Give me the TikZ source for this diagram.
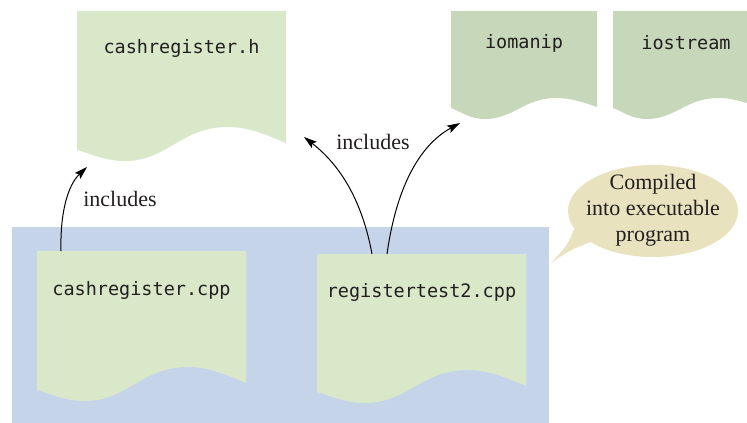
\documentclass[tikz,border=0pt]{standalone}
\usepackage{fontspec}
\setmonofont{DejaVu Sans Mono}
\newfontfamily\labelserif{Liberation Serif}
\usetikzlibrary{arrows.meta}
\definecolor{docgreen}{HTML}{D9E8C9}
\definecolor{libgreen}{HTML}{C6D7BA}
\definecolor{bluebg}{HTML}{C6D4EA}
\definecolor{calloutcol}{HTML}{E8E2BF}
\definecolor{inkcol}{HTML}{231F20}
\newcommand{\docshape}[8]{%
  \pgfmathsetmacro\dcw{#3-#2}%
  \pgfmathsetmacro\dcxp{#2+0.72*\dcw}%
  \pgfmathsetmacro\dcxt{#2+0.23*\dcw}%
  \fill[#1] (#2,#4) -- (#3,#4) -- (#3,#5)
    .. controls ({#3-0.1*\dcw},{#5-0.55*(#5-#7)}) and ({\dcxp+0.1*\dcw},#7) .. (\dcxp,#7)
    .. controls ({\dcxp-0.22*\dcw},#7) and ({\dcxt+0.2*\dcw},#8) .. (\dcxt,#8)
    .. controls ({\dcxt-0.1*\dcw},#8) and ({#2+0.07*\dcw},{#6+0.35*(#8-#6)}) .. (#2,#6)
    -- cycle;}
\tikzset{
  mono/.style={font=\ttfamily\fontsize{18.5}{22}\selectfont, text=inkcol, inner sep=0pt},
  serifl/.style={font=\labelserif\fontsize{22}{26}\selectfont, text=inkcol, inner sep=0pt, align=center},
  incl/.style={line width=1pt, draw=black, -{Stealth[length=13pt,width=8pt,inset=2.5pt]}}
}
\begin{document}
\begin{tikzpicture}[x=1pt,y=-1pt]
\useasboundingbox (0,0) rectangle (747,423);
\clip (0,0) rectangle (747,423);
% background box of compiled program
\fill[bluebg] (12,227) rectangle (549,423);
% documents
\docshape{docgreen}{77}{286}{11}{143}{150}{127}{161}
\docshape{libgreen}{451}{597}{11}{107}{108}{98}{119}
\docshape{libgreen}{613}{759}{11}{107}{108}{98}{119}
\docshape{docgreen}{37}{246}{251}{383}{390}{367}{401}
\docshape{docgreen}{317}{526}{254}{386}{392}{370}{403}
% file names
\node[mono] (hfile) at (181.5,48) {cashregister.h};
\node[mono] (iomanip) at (524,43) {iomanip};
\node[mono] (iostream) at (686,43) {iostream};
\node[mono] (cppfile) at (141.5,290) {cashregister.cpp};
\node[mono] (testfile) at (421.5,292) {registertest2.cpp};
% callout
\fill[calloutcol] (575,227) .. controls (567,246) .. (551,263) .. controls (570,250) .. (593,241) -- cycle;
\fill[calloutcol] (653,211) ellipse [x radius=85, y radius=46];
\node[serifl] (callout) at (653,210) {Compiled\\into executable\\program};
% arrow end points
\coordinate (cppTop) at (61,251);
\coordinate (hBottom) at (87,167);
\coordinate (testTopA) at (372,254);
\coordinate (testTopB) at (387,254);
\coordinate (hRight) at (304,137);
\coordinate (ioLeft) at (460,123);
% arrows
\draw[incl] (cppTop) .. controls (60,212) and (68,185) .. (hBottom);
\draw[incl] (testTopA) .. controls (362,200) and (340,165) .. (hRight);
\draw[incl] (testTopB) .. controls (396,190) and (418,146) .. (ioLeft);
% labels
\node[serifl] (lab1) at (120,199) {includes};
\node[serifl] (lab2) at (373,142) {includes};
\end{tikzpicture}
\end{document}
